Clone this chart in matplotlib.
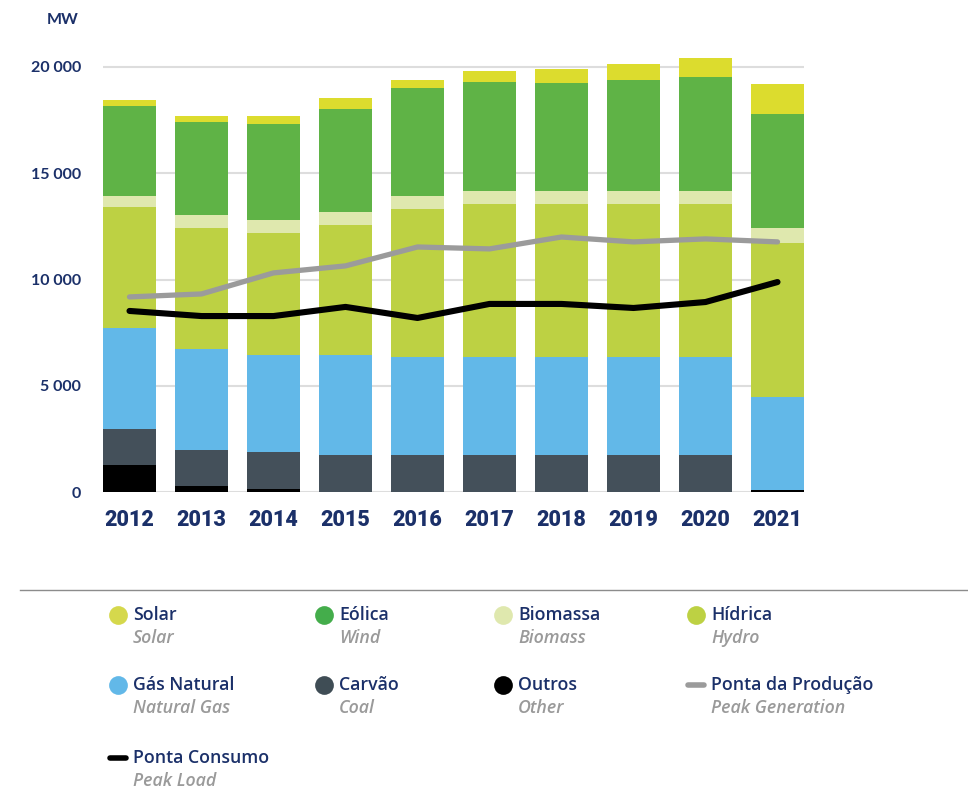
import numpy as np
import matplotlib
matplotlib.use("Agg")
import matplotlib.pyplot as plt
from matplotlib.lines import Line2D
from matplotlib.ticker import FuncFormatter

# -------------------------
# dados (MW)
# -------------------------
anos = ["2012", "2013", "2014", "2015", "2016", "2017", "2018", "2019", "2020", "2021"]

outros   = [1270, 280, 140, 0, 0, 0, 0, 0, 0, 100]
carvao   = [1700, 1700, 1740, 1740, 1740, 1740, 1740, 1740, 1740, 0]
gas      = [4750, 4750, 4570, 4710, 4610, 4610, 4610, 4610, 4610, 4370]
hidrica  = [5690, 5690, 5740, 6120, 6970, 7200, 7200, 7200, 7200, 7250]
biomassa = [520, 610, 610, 610, 610, 610, 610, 610, 610, 700]
eolica   = [4240, 4380, 4520, 4850, 5080, 5130, 5080, 5220, 5360, 5360]
solar    = [280, 280, 380, 520, 380, 520, 660, 750, 900, 1410]

ponta_producao = [9180, 9320, 10310, 10640, 11530, 11440, 12000, 11770, 11910, 11770]
ponta_consumo  = [8520, 8280, 8280, 8710, 8190, 8850, 8850, 8660, 8940, 9880]

NAVY = "#1B3069"
GREY_TXT = "#9A9A9A"

series = [
    (outros,   "#000000"),
    (carvao,   "#44505A"),
    (gas,      "#62B8E8"),
    (hidrica,  "#BDD143"),
    (biomassa, "#DFE8AE"),
    (eolica,   "#5FB346"),
    (solar,    "#DCDC2E"),
]

# -------------------------
# figura
# -------------------------
W, H = 968, 792
fig = plt.figure(figsize=(W / 100, H / 100), dpi=100)
YMAX = 21000
px_per_mw = 425 / 20000
ax = fig.add_axes([103 / W, (H - 492) / H, (804 - 103) / W, YMAX * px_per_mw / H])

x = np.arange(len(anos))
bottom = np.zeros(len(anos))
for vals, cor in series:
    ax.bar(x, vals, bottom=bottom, width=0.736, color=cor, zorder=2, linewidth=0)
    bottom += np.array(vals)

ax.plot(x, ponta_producao, color="#9B9B9B", lw=3.8, solid_capstyle="round",
        solid_joinstyle="round", zorder=3)
ax.plot(x, ponta_consumo, color="#000000", lw=4.4, solid_capstyle="round",
        solid_joinstyle="round", zorder=4)

ax.set_xlim(-0.368, 9.368)
ax.set_ylim(0, YMAX)
ax.set_yticks([0, 5000, 10000, 15000, 20000])
ax.yaxis.set_major_formatter(FuncFormatter(lambda v, p: f"{int(v):,}".replace(",", " ")))
ax.grid(axis="y", color="#DDDDDD", lw=1.5, zorder=0)
for s in ax.spines.values():
    s.set_visible(False)
ax.tick_params(axis="y", length=0, pad=16, labelsize=11.5, labelcolor=NAVY)
for t in ax.get_yticklabels():
    t.set_fontweight("bold")
    t.set_family(["Lato", "DejaVu Sans"])
ax.set_xticks(x)
ax.set_xticklabels(anos)
ax.tick_params(axis="x", length=0, pad=12, labelsize=15.5, labelcolor=NAVY)
for t in ax.get_xticklabels():
    t.set_fontweight(900)
    t.set_family(["Roboto", "DejaVu Sans"])

fig.text(63 / W, (H - 20) / H, "MW", ha="center", va="center", color=NAVY,
         fontsize=11.5, fontweight="bold", family=["Lato", "DejaVu Sans"])

# -------------------------
# legenda manual
# -------------------------
lg = fig.add_axes([0, 0, 1, 1])
lg.set_xlim(0, W)
lg.set_ylim(H, 0)
lg.axis("off")
lg.add_line(Line2D([20, W], [590, 590], color="#8C8C8C", lw=1.0))

itens = [
    ("Solar", "Solar", "#D5D84C", "o", 0, 0),
    ("Eólica", "Wind", "#44AD4B", "o", 1, 0),
    ("Biomassa", "Biomass", "#DFE8AE", "o", 2, 0),
    ("Hídrica", "Hydro", "#BDD143", "o", 3, 0),
    ("Gás Natural", "Natural Gas", "#62B8E8", "o", 0, 1),
    ("Carvão", "Coal", "#3F4D55", "o", 1, 1),
    ("Outros", "Other", "#000000", "o", 2, 1),
    ("Ponta da Produção", "Peak Generation", "#9B9B9B", "-", 3, 1),
    ("Ponta Consumo", "Peak Load", "#000000", "-", 0, 2),
]
col_x = [118, 324, 503, 696]
row_y = [615, 685, 758]
for pt, en, cor, mk, c, r in itens:
    cx, cy = col_x[c], row_y[r]
    if mk == "o":
        lg.plot([cx], [cy], "o", ms=13.5, color=cor, mec="none")
    else:
        lg.plot([cx - 8, cx + 8], [cy, cy], color=cor, lw=4, solid_capstyle="round")
    lg.text(cx + 15, cy, pt, ha="left", va="center", color=NAVY, fontsize=12.8,
            fontweight=600, family=["Open Sans", "DejaVu Sans"])
    lg.text(cx + 15, cy + 23, en, ha="left", va="center", color=GREY_TXT, fontsize=12.8,
            fontweight=600, fontstyle="italic", family=["Open Sans", "DejaVu Sans"])

fig.savefig("out.png", dpi=100)
